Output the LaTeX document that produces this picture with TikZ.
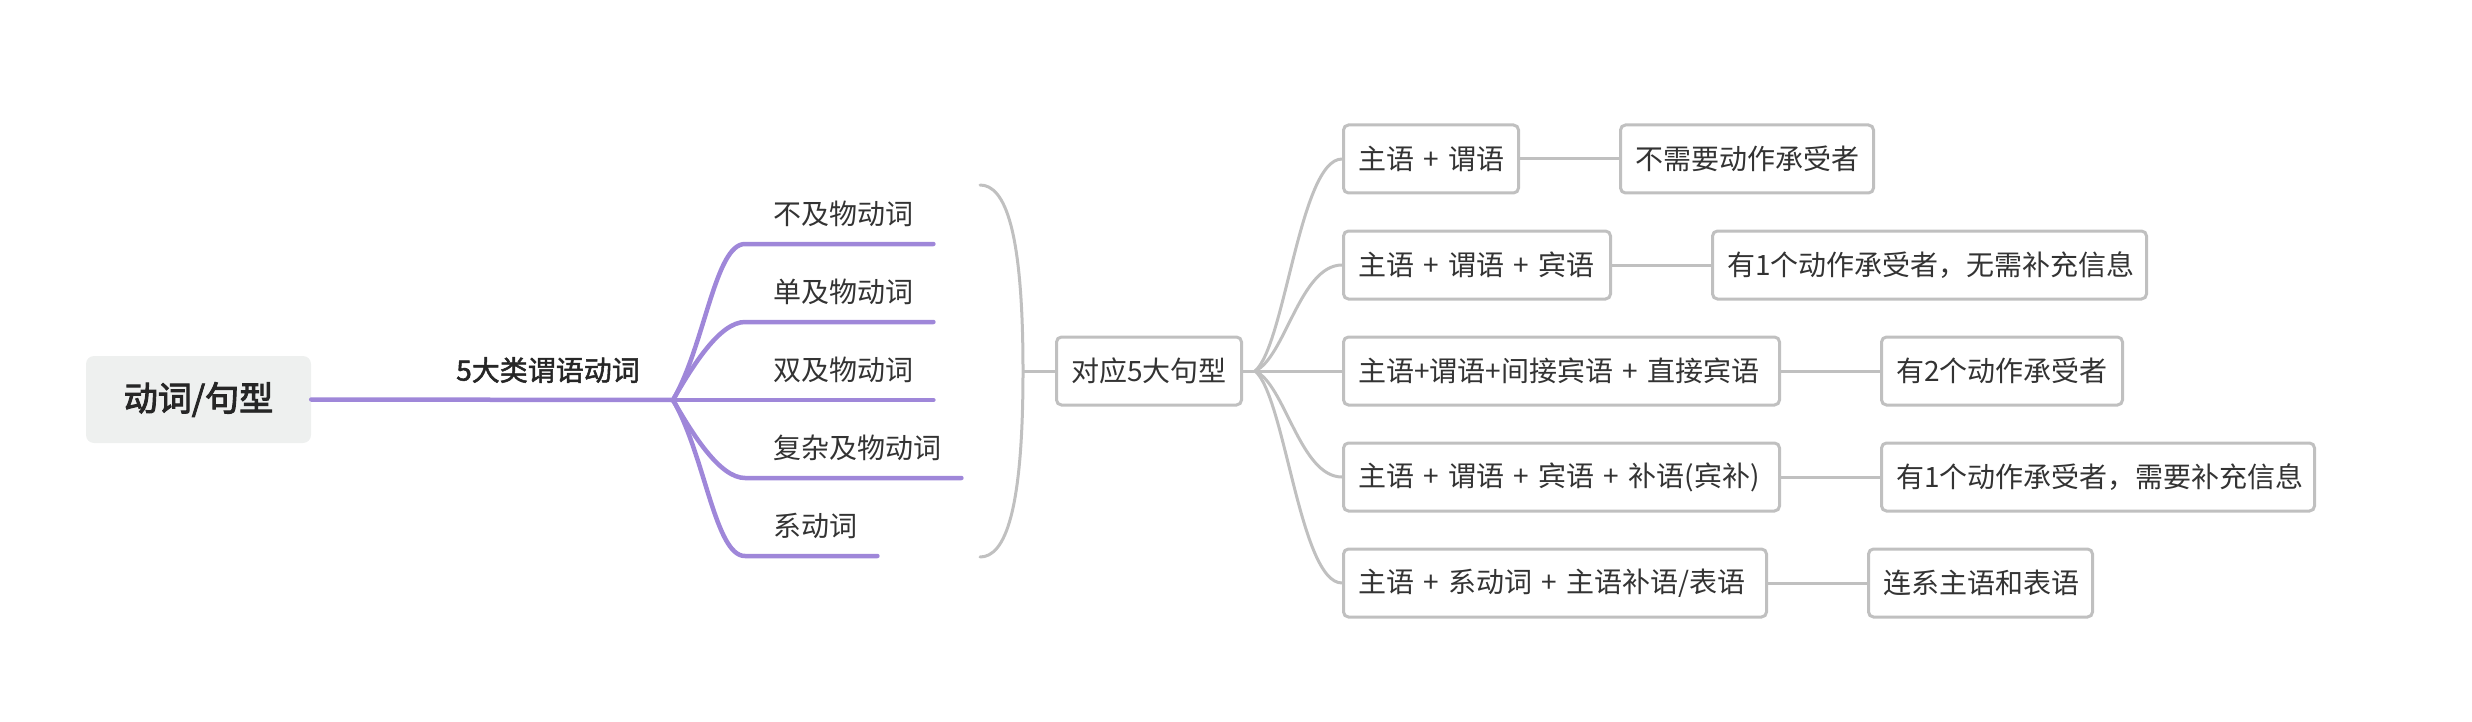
\documentclass[tikz,border=0pt]{standalone}
\usepackage{fontspec}
\setmainfont{Noto Sans CJK SC}[WordSpace=1.8]
\newfontfamily\midfont{Noto Sans CJK SC}[FakeBold=1.8]
\newfontfamily\rootfont{Noto Sans CJK SC}[FakeBold=2.8]
\usetikzlibrary{positioning}
\definecolor{vpurple}{RGB}{159,135,217}
\definecolor{linegray}{RGB}{192,192,192}
\definecolor{rootfill}{RGB}{238,240,239}
\definecolor{inkgray}{RGB}{51,51,51}

\begin{document}
\begin{tikzpicture}[x=1pt,y=-1pt,
    every node/.style={text=inkgray,font=\fontsize{28}{34}\selectfont},
    verb/.style={anchor=south west,inner xsep=20pt,inner ysep=0pt,minimum height=60pt},
    sbox/.style={draw=linegray,line width=3pt,rounded corners=5pt,fill=white,
      minimum height=68pt,inner xsep=14.5pt,text width=#1,align=left},
    vline/.style={draw=vpurple,line width=4.5pt,line cap=round},
    fan/.style={draw=linegray,line width=3pt}]
  \useasboundingbox (0,0) rectangle (2472,722);
  % root and the five verb kinds
  \node[fill=rootfill,rounded corners=8pt,minimum width=225pt,minimum height=87pt,
    text=black!85,font=\rootfont\fontsize{34}{40}\selectfont] (root) at (198.5,399.5) {动词/句型};
  \coordinate (jv) at (673,400);
  \draw[vline] (root.east) -- (jv);
  \node[text=black!85,font=\midfont\fontsize{28}{34}\selectfont] (lbl) at (548,370) {5大类谓语动词};
  \node[verb] (v1) at (753,244) {不及物动词};
  \node[verb] (v2) at (753,322) {单及物动词};
  \node[verb] (v3) at (753,400) {双及物动词};
  \node[verb] (v4) at (753,478) {复杂及物动词};
  \node[verb] (v5) at (753,556) {系动词};
  \foreach \i/\a/\b/\c in {1/32/-55/-30,2/20/-35/-25,3/20/0/-25,4/20/35/-25,5/32/55/-30}
    \draw[vline] (jv) .. controls +(\a,\b) and +(\c,0) .. ([xshift=-8pt]v\i.south west) -- (v\i.south east);
  % brace to the sentence patterns
  \coordinate (bt) at (980,185);
  \coordinate (bm) at (1023,371);
  \coordinate (bb) at (980,557);
  \draw[fan,line cap=round] (bt) .. controls +(25,0) and +(0,-141) .. (bm)
    .. controls +(0,141) and +(25,0) .. (bb);
  \node[sbox=156pt] (s5) at (1149,371) {对应5大句型};
  \draw[fan] (bm) -- (s5.west);
  \coordinate (jf) at (1255,371);
  \draw[fan] (s5.east) -- (jf);
  % five patterns and what they need
  \node[sbox=146pt,anchor=west] (a1) at (1342,159) {主语~+~谓语};
  \node[sbox=238pt,anchor=west] (a2) at (1342,265) {主语~+~谓语~+~宾语};
  \node[sbox=407pt,anchor=west] (a3) at (1342,371) {主语+谓语+间接宾语~+~直接宾语};
  \node[sbox=407pt,anchor=west] (a4) at (1342,477) {主语~+~谓语~+~宾语~+~补语(宾补)};
  \node[sbox=394pt,anchor=west] (a5) at (1342,583) {主语~+~系动词~+~主语补语/表语};
  \node[sbox=224pt,right=99pt of a1] (b1) {不需要动作承受者};
  \node[sbox=405pt,right=99pt of a2] (b2) {有1个动作承受者，无需补充信息};
  \node[sbox=212pt,right=99pt of a3] (b3) {有2个动作承受者};
  \node[sbox=404pt,right=99pt of a4] (b4) {有1个动作承受者，需要补充信息};
  \node[sbox=195pt,right=99pt of a5] (b5) {连系主语和表语};
  \foreach \i/\c in {1/-25,2/-13,3/0,4/13,5/25}
    \draw[fan] (jf) .. controls +(30,\c) and +(-42,0) .. (a\i.west);
  \foreach \i in {1,...,5}
    \draw[fan] (a\i.east) -- (b\i.west);
\end{tikzpicture}
\end{document}
